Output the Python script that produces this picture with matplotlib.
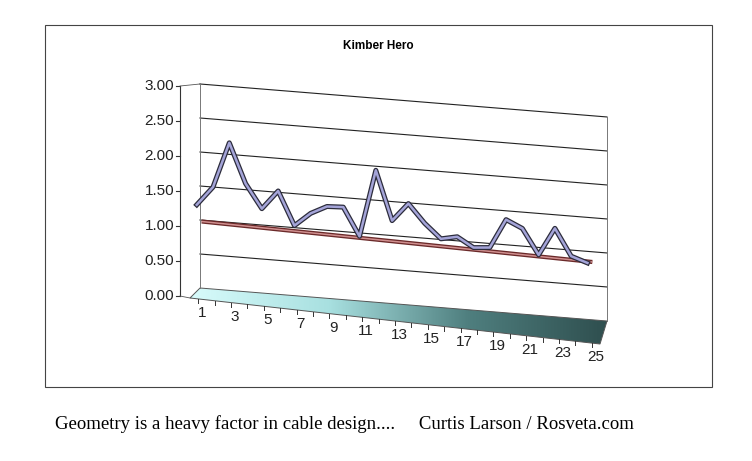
import numpy as np
import matplotlib.pyplot as plt
from matplotlib.transforms import Affine2D
from matplotlib.patches import Polygon, Rectangle
from matplotlib.colors import LinearSegmentedColormap

plt.rcParams['font.family'] = 'Liberation Sans'

# data
positions = list(range(1, 26))
values = [1.22, 1.50, 2.17, 1.59, 1.24, 1.52, 1.03, 1.23, 1.35, 1.36,
          0.95, 1.94, 1.22, 1.49, 1.22, 1.01, 1.06, 0.92, 0.94, 1.37,
          1.26, 0.89, 1.30, 0.91, 0.83]
trend_x = [1.3, 25.3]
trend_y = [0.98, 0.85]
y_ticks = [0.0, 0.5, 1.0, 1.5, 2.0, 2.5, 3.0]
x_labels = [str(i) for i in range(1, 26, 2)]

W, H = 752, 461
fig = plt.figure(figsize=(W / 100, H / 100), dpi=100)

# pixel overlay for the frame, floor and axis decorations
pax = fig.add_axes([0, 0, 1, 1], zorder=0)
pax.set_xlim(0, W)
pax.set_ylim(H, 0)
pax.set_axis_off()

pax.add_patch(Rectangle((45, 25), 667, 362, fill=False, ec='#444444', lw=0.8))
pax.text(378, 46, 'Kimber Hero', ha='center', va='center', fontsize=8.5, fontweight='bold')
pax.text(55, 424, 'Geometry is a heavy factor in cable design....     Curtis Larson / Rosveta.com',
         ha='left', va='center', fontsize=13.5, family='Liberation Serif')

# floor with gradient
floor = [(200, 288), (607, 321), (600, 344), (190, 298)]
poly = Polygon(floor, closed=True, fc='none', ec='#555555', lw=0.7)
pax.add_patch(poly)
grad = np.linspace(0, 1, 256).reshape(1, -1)
cmap = LinearSegmentedColormap.from_list('fl', ['#d8fbfb', '#a8e0e0', '#4f7f7f', '#2f4f4f'])
im = pax.imshow(grad, cmap=cmap, extent=(190, 607, 344, 286), aspect='auto', zorder=0.5)
im.set_clip_path(poly)

# front value axis
pax.plot([180, 180], [86, 296], color='#333333', lw=0.8)
for v in y_ticks:
    yy = 296 - 70 * v
    pax.plot([176, 180], [yy, yy], color='#333333', lw=0.8)
    pax.text(174, yy, f'{v:.2f}', ha='right', va='center', fontsize=11, color='#222222')
pax.plot([180, 200], [86, 84], color='#555555', lw=0.6)
pax.plot([180, 190], [296, 298], color='#555555', lw=0.6)

# category tick labels along the front edge of the floor
for i in range(25):
    px = 190 + (600 - 190) * (i + 0.5) / 25
    py = 298 + (344 - 298) * (i + 0.5) / 25
    pax.plot([px, px], [py, py + 4], color='#333333', lw=0.7)
for lab in x_labels:
    i = int(lab) - 1
    px = 190 + (600 - 190) * (i + 0.5) / 25
    py = 298 + (344 - 298) * (i + 0.5) / 25
    pax.text(px + 4, py + 14, lab, ha='center', va='center', fontsize=11, color='#222222')

# data axes: back wall, skewed for the perspective look
left, right = 200, 607
bottom, top = 288, 84
ax = fig.add_axes([left / W, (H - bottom) / H, (right - left) / W, (bottom - top) / H], zorder=1)
ax.set_xlim(1.2, 26.2)
ax.set_ylim(0, 3.0)
ax.set_axis_off()
ax.patch.set_alpha(0)

slope = 0.081
skew = (Affine2D().translate(-left, -(H - bottom))
        .skew(0, -np.arctan(slope))
        .translate(left, H - bottom))
tr = ax.transData + skew

for v in y_ticks[1:]:
    ax.plot([1.2, 26.2], [v, v], color='#222222', lw=0.8, transform=tr, clip_on=False)
ax.plot([1.2, 1.2], [0, 3.0], color='#777777', lw=0.7, transform=tr, clip_on=False)
ax.plot([26.2, 26.2], [0, 3.0], color='#777777', lw=0.7, transform=tr, clip_on=False)

ax.plot(trend_x, trend_y, color='#6b2a2a', lw=3.0, transform=tr, clip_on=False, solid_capstyle='butt')
ax.plot(trend_x, trend_y, color='#d08f8f', lw=1.1, transform=tr, clip_on=False, solid_capstyle='butt')

ax.plot(positions, values, color='#2c2c3c', lw=3.6, transform=tr, clip_on=False)
ax.plot(positions, values, color='#a4a4d8', lw=1.8, transform=tr, clip_on=False)

fig.savefig('out.png', dpi=100)
